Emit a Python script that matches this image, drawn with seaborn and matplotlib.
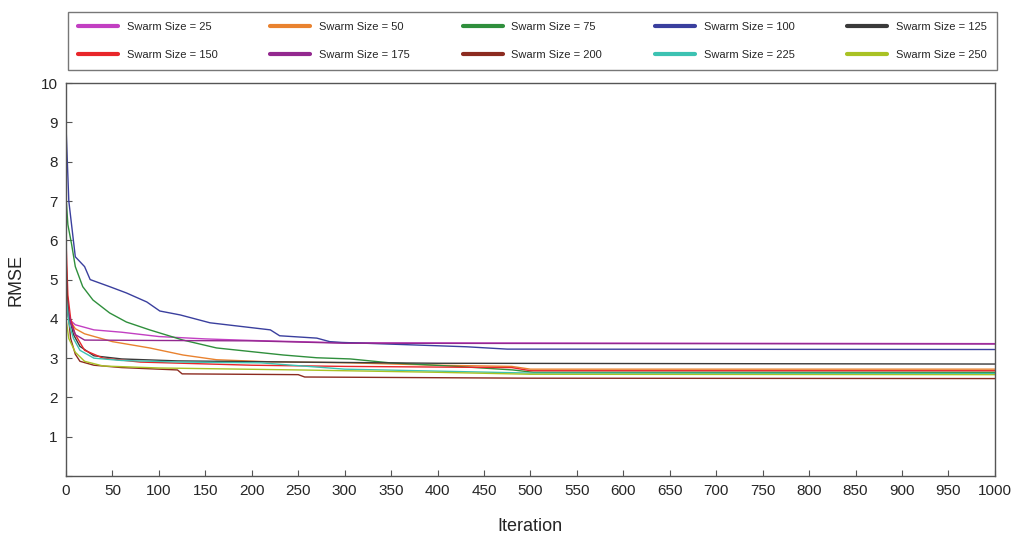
import pandas as pd
import seaborn as sns
import matplotlib.pyplot as plt
from matplotlib.lines import Line2D

# swarm sizes and their colours
sizes = [25, 50, 75, 100, 125, 150, 175, 200, 225, 250]
colors = ["#c23fc2", "#e9822f", "#2f8f3c", "#3a3f9e", "#3a3a3a",
          "#e8262a", "#93288f", "#8c2b20", "#3cc2b2", "#a9c224"]

# convergence curves: (iteration, RMSE)
it_25 = [0, 3, 10, 30, 60, 100, 150, 200, 300, 1000]
rmse_25 = [4.3, 4.0, 3.85, 3.72, 3.66, 3.55, 3.49, 3.45, 3.39, 3.37]

it_50 = [0, 3, 10, 20, 50, 90, 126, 162, 216, 306, 400, 480, 500, 1000]
rmse_50 = [4.5, 4.0, 3.75, 3.62, 3.42, 3.26, 3.08, 2.96, 2.91, 2.88, 2.82, 2.79, 2.72, 2.72]

it_75 = [0, 2, 6, 10, 18, 29, 47, 65, 90, 126, 162, 198, 234, 270, 306,
         349, 421, 481, 503, 1000]
rmse_75 = [7.1, 6.4, 5.9, 5.33, 4.82, 4.48, 4.15, 3.92, 3.72, 3.46, 3.26, 3.17,
           3.08, 3.01, 2.98, 2.88, 2.79, 2.7, 2.64, 2.64]

it_100 = [0, 3, 10, 20, 26, 47, 65, 87, 101, 123, 155, 220, 230, 270, 284,
          297, 431, 475, 1000]
rmse_100 = [8.9, 7.0, 5.58, 5.33, 5.0, 4.82, 4.66, 4.43, 4.2, 4.1, 3.9, 3.72,
            3.57, 3.51, 3.42, 3.4, 3.29, 3.23, 3.22]

it_125 = [0, 3, 8, 15, 30, 60, 120, 250, 400, 1000]
rmse_125 = [4.9, 4.1, 3.6, 3.3, 3.06, 2.98, 2.93, 2.9, 2.87, 2.85]

it_150 = [0, 2, 5, 10, 20, 40, 80, 200, 300, 480, 500, 1000]
rmse_150 = [6.0, 4.6, 4.0, 3.6, 3.2, 3.0, 2.9, 2.82, 2.79, 2.76, 2.68, 2.68]

it_175 = [0, 2, 5, 10, 20, 100, 200, 300, 1000]
rmse_175 = [5.2, 4.3, 3.9, 3.6, 3.46, 3.45, 3.44, 3.38, 3.36]

it_200 = [0, 2, 5, 10, 15, 30, 60, 120, 125, 250, 257, 500, 1000]
rmse_200 = [5.6, 4.2, 3.5, 3.1, 2.92, 2.82, 2.76, 2.7, 2.6, 2.58, 2.52, 2.49, 2.48]

it_225 = [0, 3, 8, 15, 30, 60, 126, 210, 300, 500, 1000]
rmse_225 = [4.6, 3.9, 3.5, 3.2, 3.0, 2.94, 2.9, 2.88, 2.72, 2.62, 2.61]

it_250 = [0, 3, 10, 20, 40, 100, 250, 400, 500, 1000]
rmse_250 = [4.0, 3.5, 3.15, 2.92, 2.8, 2.75, 2.7, 2.64, 2.59, 2.58]

curves = {
    25: (it_25, rmse_25), 50: (it_50, rmse_50), 75: (it_75, rmse_75),
    100: (it_100, rmse_100), 125: (it_125, rmse_125), 150: (it_150, rmse_150),
    175: (it_175, rmse_175), 200: (it_200, rmse_200), 225: (it_225, rmse_225),
    250: (it_250, rmse_250),
}

rows = []
for s in sizes:
    its, vals = curves[s]
    for i, v in zip(its, vals):
        rows.append({"Iteration": i, "RMSE": v, "size": s})
df = pd.DataFrame(rows)

sns.set_style("ticks")
plt.rcParams["font.family"] = ["Liberation Sans", "DejaVu Sans"]

fig = plt.figure(figsize=(10.11, 5.40), dpi=100)
ax = fig.add_axes([0.0653, 0.1185, 0.9187, 0.7275])

sns.lineplot(data=df, x="Iteration", y="RMSE", hue="size", palette=colors,
             hue_order=sizes, linewidth=1.0, legend=False, ax=ax, estimator=None)

ax.set_xlim(0, 1000)
ax.set_ylim(0, 10)
ax.set_xticks(range(0, 1001, 50))
ax.set_yticks(range(0, 11))
ax.set_yticklabels([""] + [str(i) for i in range(1, 11)])
ax.tick_params(direction="in", length=4, labelsize=11, color="#555555", pad=6)
for sp in ax.spines.values():
    sp.set_color("#555555")
    sp.set_linewidth(1.0)
ax.set_xlabel("Iteration", fontsize=13, labelpad=14)
ax.set_ylabel("RMSE", fontsize=13, labelpad=12)

# legend fills column by column, so reorder to read row by row
order = [r * 5 + c for c in range(5) for r in range(2)]
handles = [Line2D([], [], color=colors[k], linewidth=3) for k in order]
labels = [f"Swarm Size = {sizes[k]}" for k in order]
leg = fig.legend(handles, labels, ncol=5, loc="lower left",
                 bbox_to_anchor=(68 / 1011, 470 / 540, 929 / 1011, 62 / 540),
                 mode="expand", fontsize=8, handlelength=3.6, frameon=True,
                 fancybox=False, edgecolor="#555555", borderaxespad=0,
                 labelspacing=1.6, columnspacing=1.0, borderpad=0.9)
leg.get_frame().set_linewidth(1.0)

fig.savefig("out.png", dpi=100)
